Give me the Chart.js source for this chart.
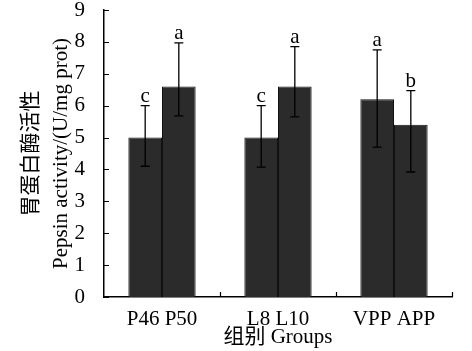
<!DOCTYPE html>
<html>
<head>
<meta charset="utf-8">
<script src="https://cdn.jsdelivr.net/npm/chart.js@4"></script>
<style>
  html, body { margin: 0; padding: 0; background: #fff; }
  #wrap { width: 472px; height: 351px; }
</style>
</head>
<body>
<div id="wrap"><canvas id="pepsin"></canvas></div>
<script>
// groups and values
var groupLabels = ['P46 P50', 'L8 L10', 'VPP APP']
var firstValues = [5.0, 5.0, 6.2]
var secondValues = [6.6, 6.6, 5.4]
// error bar ends (upper / lower) for each bar
var firstUpper = [6.0, 6.0, 7.75]
var firstLower = [4.1, 4.07, 4.7]
var secondUpper = [7.97, 7.85, 6.47]
var secondLower = [5.68, 5.65, 3.92]
// significance letters
var firstLetters = ['c', 'c', 'a']
var secondLetters = ['a', 'a', 'b']
var yTicks = [0, 1, 2, 3, 4, 5, 6, 7, 8, 9]

var serif = "'Liberation Serif', 'Times New Roman', 'Noto Sans CJK SC', serif"
var barColor = '#2b2b2b'

var errorBars = {
  id: 'errorBars',
  afterDatasetsDraw: function(chart) {
    var ctx = chart.ctx
    var y = chart.scales.y
    var sets = [
      {up: firstUpper, lo: firstLower, letters: firstLetters},
      {up: secondUpper, lo: secondLower, letters: secondLetters}
    ]
    ctx.save()
    sets.forEach(function(s, di) {
      var meta = chart.getDatasetMeta(di)
      meta.data.forEach(function(bar, i) {
        var x = bar.x
        var top = y.getPixelForValue(s.up[i])
        var bot = y.getPixelForValue(s.lo[i])
        ctx.strokeStyle = '#000'
        ctx.lineWidth = 1.3
        ctx.beginPath()
        ctx.moveTo(x, top); ctx.lineTo(x, bot)
        ctx.moveTo(x - 4.5, top); ctx.lineTo(x + 4.5, top)
        ctx.moveTo(x - 4.5, bot); ctx.lineTo(x + 4.5, bot)
        ctx.stroke()
        ctx.fillStyle = '#000'
        ctx.font = '21px ' + serif
        ctx.textAlign = 'center'
        ctx.textBaseline = 'alphabetic'
        ctx.fillText(s.letters[i], x, top - 4)
      })
    })
    ctx.restore()
  },
  afterDraw: function(chart) {
    // inward tick marks
    var ctx = chart.ctx
    var xs = chart.scales.x, ys = chart.scales.y
    var area = chart.chartArea
    ctx.save()
    ctx.strokeStyle = '#000'
    ctx.lineWidth = 1.2
    ctx.beginPath()
    yTicks.forEach(function(v) {
      var py = Math.round(ys.getPixelForValue(v)) + 0.5
      ctx.moveTo(area.left, py); ctx.lineTo(area.left + 5, py)
    })
    var half = (xs.getPixelForValue(1) - xs.getPixelForValue(0)) / 2
    for (var i = 0; i < groupLabels.length; i++) {
      var px = Math.round(xs.getPixelForValue(i) + half) + 0.5
      ctx.moveTo(px, area.bottom); ctx.lineTo(px, area.bottom - 5)
    }
    ctx.stroke()
    ctx.restore()
  }
}

new Chart('pepsin', {
  type: 'bar',
  data: {
    labels: groupLabels,
    datasets: [
      {
        label: 'first',
        data: firstValues,
        backgroundColor: barColor,
        borderColor: '#111',
        borderWidth: 1,
        barPercentage: 1,
        categoryPercentage: 0.58,
      },
      {
        label: 'second',
        data: secondValues,
        backgroundColor: barColor,
        borderColor: '#111',
        borderWidth: 1,
        barPercentage: 1,
        categoryPercentage: 0.58,
      },
    ],
  },
  options: {
    responsive: true,
    maintainAspectRatio: false,
    animation: false,
    layout: {
      padding: {top: 10, right: 20, left: 0, bottom: 0},
    },
    plugins: {
      legend: {display: false},
      tooltip: {enabled: false},
    },
    scales: {
      x: {
        grid: {display: false},
        border: {display: true, color: '#000', width: 1.5},
        ticks: {
          color: '#000',
          padding: 2,
          font: {family: serif, size: 21},
          maxRotation: 0,
        },
        title: {
          display: true,
          text: '组别 Groups',
          color: '#000',
          font: {family: serif, size: 21, lineHeight: 1.2},
          padding: {top: 0, bottom: 1},
        },
        afterFit: function(scale) { scale.height = 54 },
      },
      y: {
        min: 0,
        max: 9,
        grid: {display: false},
        border: {display: true, color: '#000', width: 1.5},
        ticks: {
          stepSize: 1,
          color: '#000',
          padding: 11,
          font: {family: serif, size: 21},
        },
        title: {
          display: true,
          text: ['胃蛋白酶活性', 'Pepsin activity/(U/mg prot)'],
          color: '#000',
          font: {family: serif, size: 21, lineHeight: 1.45},
          padding: {top: 16, bottom: 0},
        },
        afterFit: function(scale) {
          scale.width = 104
          scale.paddingTop = 0
          scale.paddingBottom = 0
        },
      },
    },
  },
  plugins: [errorBars],
});
</script>
</body>
</html>
